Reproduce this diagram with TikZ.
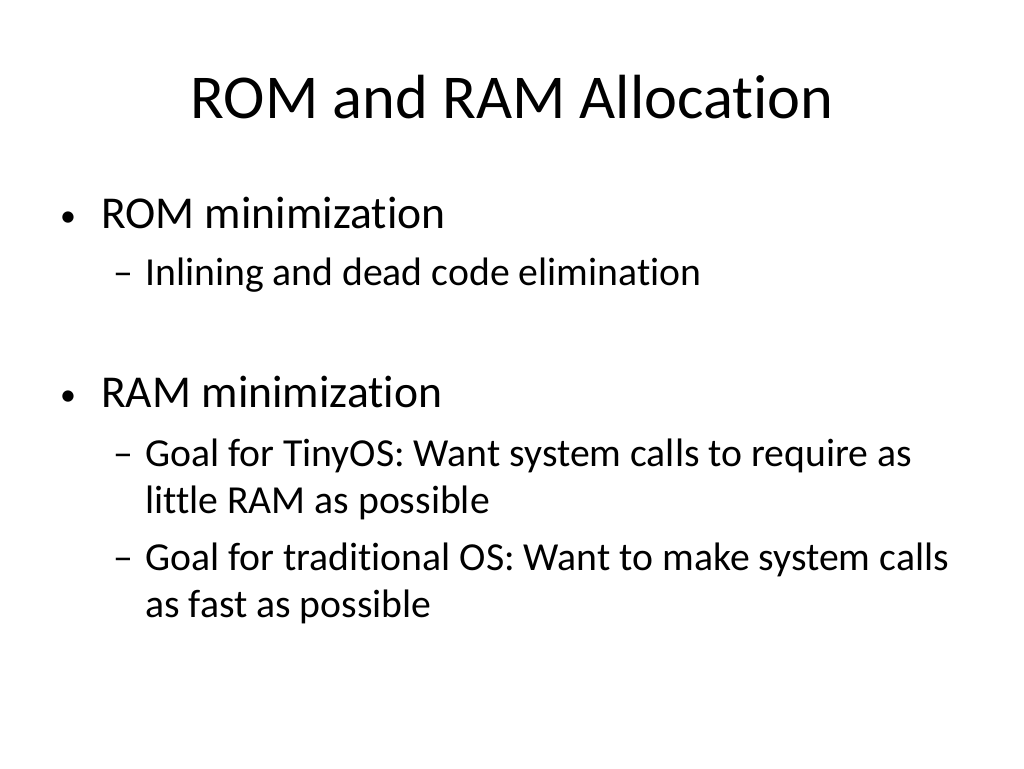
\documentclass[tikz,border=0pt]{standalone}
\usepackage{fontspec}
\setmainfont{Carlito}[Ligatures={NoCommon}]
\usetikzlibrary{positioning}
\tikzset{
    title/.style = {anchor=base, inner sep=0pt, font=\fontsize{62.4}{74}\selectfont},
    lvlone/.style = {anchor=base west, inner sep=0pt, font=\fontsize{45.6}{54}\selectfont},
    lvltwo/.style = {anchor=base west, inner sep=0pt, font=\fontsize{39.7}{47}\selectfont}}
\begin{document}
\begin{tikzpicture}[x=1pt,y=-1pt]
    \useasboundingbox (0,0) rectangle (1024,768);
    \node[title] (Title) at (512,118) {ROM and RAM Allocation};
    % ROM
    \node[lvlone, scale=0.7] (bROM) at (60,226) {•};
    \node[lvlone] (ROM) at (101,228) {ROM minimization};
    \node[lvltwo] (dInl) at (113,285) {–};
    \node[lvltwo] (Inl) at (145,285) {Inlining and dead code elimination};
    % RAM
    \node[lvlone, scale=0.7] (bRAM) at (60,405) {•};
    \node[lvlone] (RAM) at (101,407) {RAM minimization};
    \node[lvltwo] (dTiny) at (113,466) {–};
    \node[lvltwo] (Tiny) at (145,466) {Goal for TinyOS: Want system calls to require as};
    \node[lvltwo] (TinyB) at (145,513) {little RAM as possible};
    \node[lvltwo] (dTrad) at (113,570) {–};
    \node[lvltwo] (Trad) at (145,570) {Goal for traditional OS: Want to make system calls};
    \node[lvltwo] (TradB) at (145,617) {as fast as possible};
\end{tikzpicture}
\end{document}
